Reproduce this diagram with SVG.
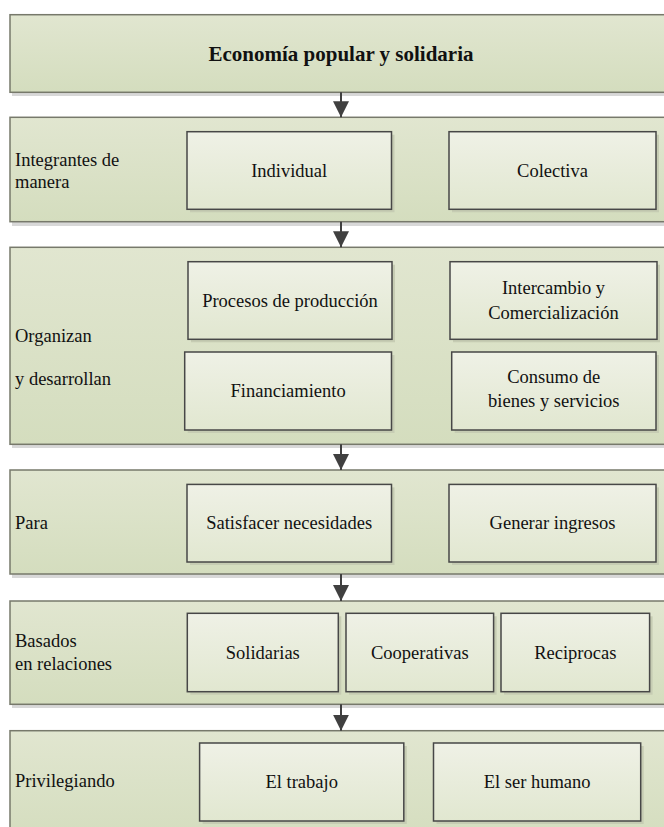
<svg xmlns="http://www.w3.org/2000/svg" width="664" height="827" viewBox="0 0 664 827">
<defs>
<linearGradient id="gBand" x1="0" y1="0" x2="0" y2="1">
<stop offset="0" stop-color="#e1e6d0"/>
<stop offset="1" stop-color="#d4ddbe"/>
</linearGradient>
<linearGradient id="gBox" x1="0" y1="0" x2="0" y2="1">
<stop offset="0" stop-color="#eff1e6"/>
<stop offset="1" stop-color="#e1e7d0"/>
</linearGradient>
<marker id="ah" viewBox="0 0 16 16" refX="16" refY="8" markerWidth="16" markerHeight="16" markerUnits="userSpaceOnUse" orient="auto">
<path d="M0,0 L16,8 L0,16 z" fill="#404040"/>
</marker>
<style>
.band{fill:url(#gBand);stroke:#77796b;stroke-width:1.5}
.bsh{fill:#d8d8d8}
.box{fill:url(#gBox);stroke:#474747;stroke-width:1.5}
.sh{fill:#c6ccb3}
text{font-family:'Liberation Serif',Tinos,'Times New Roman','DejaVu Serif',serif;font-size:18.5px;fill:#111}
.c{text-anchor:middle}
.t{font-weight:bold;font-size:21px}
.arr{stroke:#404040;stroke-width:2;fill:none;marker-end:url(#ah)}
</style>
</defs>

<g id="band1">
<rect class="bsh" x="12" y="16" width="660" height="80"/>
<rect class="band" x="10" y="14.7" width="660" height="77.6"/>
<text class="c t" x="341" y="61" font-family="Liberation Serif, serif">Economía popular y solidaria</text>
</g>

<g id="band2">
<rect class="bsh" x="12" y="119" width="660" height="107"/>
<rect class="band" x="10" y="117.3" width="660" height="104.4"/>
<text x="15" y="166">Integrantes de</text>
<text x="15" y="188">manera</text>
</g>
<g id="individual">
<rect class="sh" x="190" y="134.7" width="204.5" height="77.6"/>
<rect class="box" x="187" y="131.7" width="204.5" height="77.6"/>
<text class="c" x="289.2" y="176.5">Individual</text>
</g>
<g id="colectiva">
<rect class="sh" x="452" y="134.7" width="207" height="77.6"/>
<rect class="box" x="449" y="131.7" width="207" height="77.6"/>
<text class="c" x="552.5" y="176.5">Colectiva</text>
</g>

<g id="band3">
<rect class="bsh" x="12" y="249" width="660" height="199"/>
<rect class="band" x="10" y="247.3" width="660" height="197"/>
<text x="15" y="341.7">Organizan</text>
<text x="15" y="385">y desarrollan</text>
</g>
<g id="procesos">
<rect class="sh" x="191" y="264.7" width="204" height="77.6"/>
<rect class="box" x="188" y="261.7" width="204" height="77.6"/>
<text class="c" x="290" y="306.5">Procesos de producción</text>
</g>
<g id="intercambio">
<rect class="sh" x="453" y="264.7" width="207" height="77.6"/>
<rect class="box" x="450" y="261.7" width="207" height="77.6"/>
<text class="c" x="553.5" y="294">Intercambio y</text>
<text class="c" x="553.5" y="318.5">Comercialización</text>
</g>
<g id="financiamiento">
<rect class="sh" x="187.7" y="355" width="206.8" height="78"/>
<rect class="box" x="184.7" y="352" width="206.8" height="78"/>
<text class="c" x="288.1" y="397">Financiamiento</text>
</g>
<g id="consumo">
<rect class="sh" x="454.7" y="355" width="204.3" height="78"/>
<rect class="box" x="451.7" y="352" width="204.3" height="78"/>
<text class="c" x="553.8" y="382.5">Consumo de</text>
<text class="c" x="553.8" y="407">bienes y servicios</text>
</g>

<g id="band4">
<rect class="bsh" x="12" y="472" width="660" height="106"/>
<rect class="band" x="10" y="470" width="660" height="104"/>
<text x="15" y="529">Para</text>
</g>
<g id="satisfacer">
<rect class="sh" x="190" y="487.4" width="204.5" height="77.6"/>
<rect class="box" x="187" y="484.4" width="204.5" height="77.6"/>
<text class="c" x="289.2" y="529">Satisfacer necesidades</text>
</g>
<g id="generar">
<rect class="sh" x="452" y="487.4" width="207" height="77.6"/>
<rect class="box" x="449" y="484.4" width="207" height="77.6"/>
<text class="c" x="552.5" y="529">Generar ingresos</text>
</g>

<g id="band5">
<rect class="bsh" x="12" y="603" width="660" height="105"/>
<rect class="band" x="10" y="601" width="660" height="103.3"/>
<text x="15" y="646.7">Basados</text>
<text x="15" y="670">en relaciones</text>
</g>
<g id="solidarias">
<rect class="sh" x="190.3" y="616.3" width="151" height="78.4"/>
<rect class="box" x="187.3" y="613.3" width="151" height="78.4"/>
<text class="c" x="262.8" y="658.5">Solidarias</text>
</g>
<g id="cooperativas">
<rect class="sh" x="349" y="616.3" width="147.6" height="78.4"/>
<rect class="box" x="346" y="613.3" width="147.6" height="78.4"/>
<text class="c" x="419.8" y="658.5">Cooperativas</text>
</g>
<g id="reciprocas">
<rect class="sh" x="504" y="616.3" width="148.6" height="78.4"/>
<rect class="box" x="501" y="613.3" width="148.6" height="78.4"/>
<text class="c" x="575.3" y="658.5">Reciprocas</text>
</g>

<g id="band6">
<rect class="band" x="10" y="730.7" width="660" height="110"/>
<text x="15" y="787">Privilegiando</text>
</g>
<g id="trabajo">
<rect class="sh" x="202.6" y="746" width="204.2" height="78"/>
<rect class="box" x="199.6" y="743" width="204.2" height="78"/>
<text class="c" x="301.7" y="788">El trabajo</text>
</g>
<g id="humano">
<rect class="sh" x="436.5" y="746" width="207.2" height="78"/>
<rect class="box" x="433.5" y="743" width="207.2" height="78"/>
<text class="c" x="537.1" y="788">El ser humano</text>
</g>

<g id="connectors">
<line class="arr" x1="341" y1="92.3" x2="341" y2="117.3"/>
<line class="arr" x1="341" y1="221.7" x2="341" y2="247.3"/>
<line class="arr" x1="341" y1="444.3" x2="341" y2="470"/>
<line class="arr" x1="341" y1="574" x2="341" y2="601"/>
<line class="arr" x1="341" y1="704.3" x2="341" y2="730.7"/>
</g>
</svg>
